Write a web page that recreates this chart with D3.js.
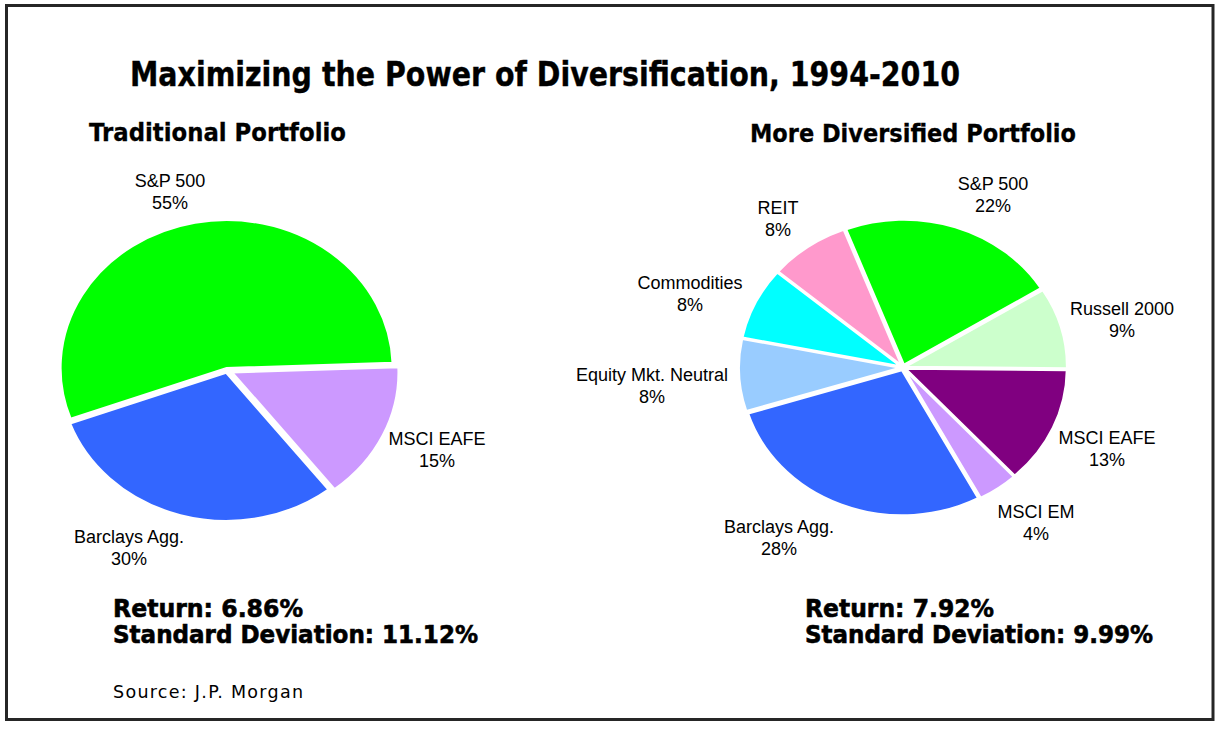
<!DOCTYPE html>
<html>
<head>
<meta charset="utf-8">
<script src="https://cdn.jsdelivr.net/npm/d3@7"></script>
<style>
  html, body { margin: 0; padding: 0; background: #fff; }
  svg { display: block; }
</style>
</head>
<body>
<svg id="chart" width="1226" height="732"></svg>
<script>
// ---------- data ----------
const titleText = "Maximizing the Power of Diversification, 1994-2010";
const leftTitle = "Traditional Portfolio";
const rightTitle = "More Diversified Portfolio";

const leftLabels = ["S&P 500", "MSCI EAFE", "Barclays Agg."];
const leftValues = [55, 15, 30];
const leftColors = ["#00ff00", "#cc99ff", "#3366ff"];

const rightLabels = ["S&P 500", "Russell 2000", "MSCI EAFE", "MSCI EM", "Barclays Agg.",
                     "Equity Mkt. Neutral", "Commodities", "REIT"];
const rightValues = [22, 9, 13, 4, 28, 8, 8, 8];
const rightColors = ["#00ff00", "#ccffcc", "#800080", "#cc99ff", "#3366ff",
                     "#99ccff", "#00ffff", "#ff99cc"];

const leftStats = ["Return: 6.86%", "Standard Deviation: 11.12%"];
const rightStats = ["Return: 7.92%", "Standard Deviation: 9.99%"];
const sourceText = "Source: J.P. Morgan";

// ---------- layout ----------
const leftPie = { cx: 227, cy: 370, rx: 166, ry: 148, start: -110, explode: [2, 6, 3],
  labelPos: [[170, 187], [437, 445], [129, 543]] };
const rightPie = { cx: 903, cy: 367.5, rx: 161, ry: 145, start: -21, explode: [3, 3, 3, 3, 3, 3, 3, 3],
  labelPos: [[993, 190], [1122, 315], [1107, 444], [1036, 518], [779, 533], [652, 381], [690, 289], [778, 214]] };

const svg = d3.select("#chart");

// border
svg.append("rect")
  .attr("x", 6.5).attr("y", 5.5).attr("width", 1206.5).attr("height", 714)
  .attr("fill", "#fff").attr("stroke", "#262626").attr("stroke-width", 3);

const boldFont = "'DejaVu Sans', Verdana, sans-serif";
const labelFont = "'Liberation Sans', Arial, sans-serif";

function boldText(txt, x, y, size, len, sw) {
  svg.append("text")
    .attr("x", x).attr("y", y)
    .attr("font-family", boldFont).attr("font-weight", "bold")
    .attr("font-size", size).attr("fill", "#000")
    .attr("stroke", "#000").attr("stroke-width", sw)
    .attr("textLength", len).attr("lengthAdjust", "spacingAndGlyphs")
    .text(txt);
}

boldText(titleText, 130, 86, 33, 830, 0.4);
boldText(leftTitle, 89, 141, 25, 257, 0.3);
boldText(rightTitle, 750, 142, 25, 326, 0.3);

boldText(leftStats[0], 113, 617, 24, 190, 0.6);
boldText(leftStats[1], 113, 643, 24, 365, 0.6);
boldText(rightStats[0], 805, 617, 24, 189, 0.6);
boldText(rightStats[1], 805, 643, 24, 348, 0.6);

svg.append("text")
  .attr("x", 113).attr("y", 698)
  .attr("font-family", boldFont).attr("font-size", 17.5).attr("fill", "#000")
  .attr("textLength", 190).attr("lengthAdjust", "spacing")
  .text(sourceText);

function drawPie(cfg, labels, values, colors) {
  const startRad = cfg.start * Math.PI / 180;
  const pie = d3.pie().sort(null).value(d => d)
    .startAngle(startRad).endAngle(startRad + 2 * Math.PI);
  const arcs = pie(values);
  const arc = d3.arc().innerRadius(0).outerRadius(cfg.rx);
  const k = cfg.ry / cfg.rx;
  const g = svg.append("g")
    .attr("transform", `translate(${cfg.cx},${cfg.cy}) scale(1,${k})`);
  g.selectAll("path")
    .data(arcs)
    .join("path")
    .attr("d", arc)
    .attr("transform", (d, i) => {
      const mid = (d.startAngle + d.endAngle) / 2;
      const e = cfg.explode[i];
      return `translate(${e * Math.sin(mid)},${-e * Math.cos(mid) / k})`;
    })
    .attr("fill", (d, i) => colors[i])
    .attr("stroke", "#fff")
    .attr("stroke-width", 2)
    .attr("vector-effect", "non-scaling-stroke");

  const lg = svg.append("g");
  arcs.forEach((d, i) => {
    const [x, y] = cfg.labelPos[i];
    const t = lg.append("text")
      .attr("text-anchor", "middle")
      .attr("font-family", labelFont)
      .attr("font-size", 18)
      .attr("fill", "#000");
    t.append("tspan").attr("x", x).attr("y", y).text(labels[i]);
    t.append("tspan").attr("x", x).attr("y", y + 22).text(values[i] + "%");
  });
}

drawPie(leftPie, leftLabels, leftValues, leftColors);
drawPie(rightPie, rightLabels, rightValues, rightColors);
</script>
</body>
</html>
